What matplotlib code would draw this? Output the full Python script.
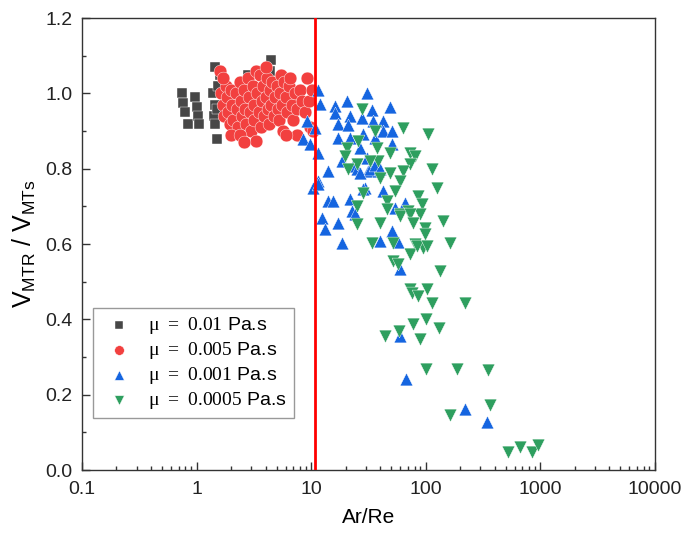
import matplotlib
matplotlib.use("Agg")
import matplotlib.pyplot as plt
from matplotlib.ticker import LogLocator, MultipleLocator, FixedLocator, FixedFormatter, NullFormatter

plt.rcParams['font.family'] = ['Liberation Sans', 'DejaVu Sans']
plt.rcParams['mathtext.fontset'] = 'custom'
plt.rcParams['mathtext.rm'] = 'Liberation Serif'
plt.rcParams['mathtext.sf'] = 'Liberation Sans'

# mu = 0.01 Pa.s
black_x = [0.75, 0.76, 0.79, 0.84, 0.97, 1.0, 1.03, 1.05, 1.45, 1.4, 1.45, 1.42, 1.45, 1.52,
           1.6, 1.5, 1.55, 2.8, 2.9, 3.3, 3.9, 4.5, 4.4, 4.2, 3.6, 2.0, 2.5]
black_y = [1.0, 0.975, 0.95, 0.92, 0.99, 0.965, 0.94, 0.92, 1.07, 1.0, 0.97, 0.94, 0.92, 0.88,
           1.05, 0.96, 1.02, 1.05, 1.02, 1.0, 1.06, 1.09, 1.06, 1.03, 0.99, 0.93, 0.95]

# mu = 0.005 Pa.s
red_x = [1.6, 1.65, 1.7, 1.75, 1.8, 1.85, 1.9, 1.95, 2.0, 2.05, 2.1, 2.2, 2.25, 2.3, 2.4, 2.45,
         2.5, 2.6, 2.65, 2.7, 2.8, 2.85, 2.9, 3.0, 3.1, 3.15, 3.2, 3.3, 3.3, 3.4, 3.5, 3.6, 3.65,
         3.7, 3.8, 3.9, 4.0, 4.1, 4.2, 4.3, 4.4, 4.5, 4.6, 4.7, 4.8, 5.0, 5.1, 5.2, 5.4, 5.5, 5.6,
         5.7, 5.8, 6.0, 6.2, 6.4, 6.6, 6.8, 7.0, 7.2, 7.5, 7.6, 8.0, 8.4, 8.8, 9.2, 9.5, 9.8,
         10.2, 10.3, 2.0, 2.4, 1.7, 4.0, 2.6, 6.0]
red_y = [1.06, 1.0, 0.97, 0.94, 1.02, 0.99, 0.95, 0.92, 1.01, 0.97, 0.93, 1.0, 0.96, 0.91, 1.03,
         0.98, 0.94, 1.01, 0.96, 0.92, 1.04, 0.99, 0.95, 0.9, 1.02, 0.97, 0.93, 0.875, 1.06, 1.0,
         0.95, 1.05, 0.91, 0.98, 1.02, 0.94, 0.99, 1.04, 0.96, 0.92, 1.01, 0.97, 1.03, 0.94, 0.99,
         1.02, 0.96, 0.93, 1.0, 1.05, 0.97, 0.9, 1.03, 0.99, 0.95, 1.02, 1.04, 0.97, 0.93, 1.0,
         0.89, 0.96, 1.01, 0.98, 0.95, 1.04, 0.98, 0.91, 1.01, 0.9, 0.89, 0.89, 1.04, 1.07, 0.87, 0.89]

# mu = 0.001 Pa.s
blue_x = [11.5, 11.9, 16.1, 20.5, 30.7, 48.7, 9.2, 10.8, 8.5, 9.8, 11.5, 16.1, 17.1, 21.8, 21,
          27.7, 33.9, 34.6, 42.3, 17.1, 21.8, 28.3, 26.6, 30.7, 36, 42.3, 50.7, 50.7, 14, 18.6,
          23.2, 31.3, 38.3, 11.5, 29.5, 10.4, 11.5, 14, 15.5, 21.8, 22.7, 24.1, 12.4, 13.2, 17.1,
          18.6, 28.3, 42.3, 53.8, 65.8, 39.8, 50.7, 59.5, 57.2, 59.5, 68, 220, 345,
          25, 27, 33, 36, 40]
blue_y = [1.01, 0.973, 0.968, 0.981, 1.0, 0.963, 0.928, 0.909, 0.88, 0.867, 0.843, 0.947, 0.92,
          0.941, 0.915, 0.936, 0.955, 0.928, 0.928, 0.883, 0.883, 0.893, 0.856, 0.829, 0.883,
          0.901, 0.901, 0.867, 0.795, 0.821, 0.808, 0.795, 0.795, 0.768, 0.749, 0.749, 0.76,
          0.715, 0.715, 0.72, 0.688, 0.68, 0.669, 0.64, 0.656, 0.603, 0.747, 0.741, 0.696, 0.709,
          0.608, 0.635, 0.533, 0.605, 0.355, 0.243, 0.163, 0.128,
          0.80, 0.79, 0.80, 0.81, 0.80]

# mu = 0.0005 Pa.s
green_x = [27.7, 63.2, 104, 36, 25.6, 20.5, 19.7, 37.5, 48.7, 72.8, 80.5, 38.3, 32.6, 25.1, 21,
           113, 72.8, 63.2, 48.7, 39.8, 125, 59.5, 53.8, 28.3, 45.8, 85.5, 92.7, 70, 59.5, 25.1,
           25.1, 39.8, 89, 98.4, 141, 33.9, 51.8, 80.5, 94.6, 163, 72.8, 51.8, 57.2, 133, 45.8,
           59.5, 72.8, 77.3, 98.4, 83.8, 103, 72.8, 103, 75.7, 85.5, 113, 220, 77.3, 100, 130,
           44, 58.3, 89, 100, 187, 348, 163, 363, 521, 664, 845, 953]
green_y = [0.96, 0.907, 0.893, 0.901, 0.875, 0.856, 0.835, 0.856, 0.843, 0.843, 0.835, 0.821,
           0.821, 0.813, 0.8, 0.8, 0.813, 0.795, 0.789, 0.776, 0.749, 0.768, 0.741, 0.736, 0.715,
           0.728, 0.707, 0.688, 0.68, 0.701, 0.653, 0.656, 0.68, 0.643, 0.661, 0.603, 0.603, 0.6,
           0.589, 0.603, 0.573, 0.555, 0.547, 0.528, 0.693, 0.675, 0.68, 0.656, 0.627, 0.595,
           0.595, 0.48, 0.48, 0.469, 0.461, 0.443, 0.443, 0.389, 0.4, 0.376, 0.355, 0.368, 0.347,
           0.269, 0.269, 0.267, 0.147, 0.173, 0.048, 0.061, 0.048, 0.067]

labels = [r'$\mathrm{\mu\;=\;0.01}$ Pa.s', r'$\mathrm{\mu\;=\;0.005}$ Pa.s',
          r'$\mathrm{\mu\;=\;0.001}$ Pa.s', r'$\mathrm{\mu\;=\;0.0005}$ Pa.s']
threshold = 10.8

fig = plt.figure(figsize=(6.95, 5.33), dpi=100)
ax = fig.add_axes([0.118, 0.118, 0.824, 0.848])

ax.scatter(black_x, black_y, marker='s', s=55, c='#474747', edgecolors='white', linewidths=0.3, label=labels[0], zorder=2)
ax.scatter(red_x, red_y, marker='o', s=85, c='#f2403f', edgecolors='white', linewidths=0.3, label=labels[1], zorder=3)
ax.scatter(blue_x, blue_y, marker='^', s=85, c='#1565e0', edgecolors='white', linewidths=0.3, label=labels[2], zorder=4)
ax.scatter(green_x, green_y, marker='v', s=85, c='#2e9f5f', edgecolors='white', linewidths=0.3, label=labels[3], zorder=5)
ax.axvline(threshold, color='#ff0000', lw=2, zorder=6)

ax.set_xscale('log')
ax.set_xlim(0.1, 10000)
ax.set_ylim(0, 1.2)
ax.xaxis.set_major_locator(FixedLocator([0.1, 1, 10, 100, 1000, 10000]))
ax.xaxis.set_major_formatter(FixedFormatter(['0.1', '1', '10', '100', '1000', '10000']))
ax.xaxis.set_minor_locator(LogLocator(base=10, subs=range(2, 10)))
ax.xaxis.set_minor_formatter(NullFormatter())
ax.yaxis.set_major_locator(MultipleLocator(0.2))
ax.yaxis.set_minor_locator(MultipleLocator(0.1))
ax.yaxis.set_major_formatter(plt.FuncFormatter(lambda v, p: f'{v:.1f}'))

ax.tick_params(which='both', direction='in', top=False, right=False, labelsize=14, colors='#333333', labelcolor='#222222')
ax.tick_params(axis='y', which='major', pad=7)
ax.tick_params(axis='x', which='major', pad=8)
ax.tick_params(which='major', length=6, width=1)
ax.tick_params(which='minor', length=3, width=1)
for sp in ax.spines.values():
    sp.set_color('#333333')
    sp.set_linewidth(1)

ax.set_xlabel('Ar/Re', fontsize=15, labelpad=7)
ax.set_ylabel(r'V$_{\mathsf{MTR}}$ / V$_{\mathsf{MTs}}$', fontsize=18, labelpad=5)

leg = ax.legend(loc='lower left', bbox_to_anchor=(0.019, 0.116), borderaxespad=0, fancybox=False,
                edgecolor='#999999', framealpha=1, fontsize=14, markerscale=0.75,
                handletextpad=0.5, labelspacing=0.2, borderpad=0.35)
leg.get_frame().set_linewidth(1)

fig.savefig('out.png', dpi=100)
